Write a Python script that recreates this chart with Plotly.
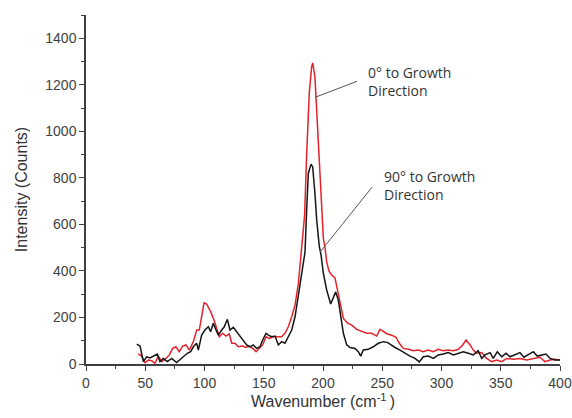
import plotly.graph_objects as go

# Wavenumber / intensity
red_x = [44.1, 47, 49.8, 52.6, 55.4, 58.2, 61, 63.9, 67.5, 70.3, 73.2, 75.9, 78.7, 81.6, 84.4, 87.2,
         90.6, 93.4, 95.6, 97.6, 99.6, 101.8, 105.2, 108, 110.3, 112.5, 115.3, 118.1, 120.9, 123,
         125.7, 128.5, 132.2, 135, 137.8, 140.7, 143.5, 146.3, 149.1, 151.9, 154.7, 158.1, 162.3,
         165.1, 167.9, 170.7, 173.6, 176.4, 179.2, 180.6, 182.5, 184.5, 186.2, 188.4, 190.4, 191.3,
         193.2, 194.7, 196.9, 198.9, 200.3, 201.7, 203.1, 205, 207.3, 210.1, 212.1, 215, 217.2,
         220.5, 224.2, 228.4, 232.7, 236.9, 241.1, 245.3, 248.1, 250.9, 254.3, 258, 261.6, 264.4,
         267.8, 272, 276.2, 280.4, 284.6, 288.8, 293.1, 297.3, 301.5, 305.7, 310, 314.2, 317.9,
         320.7, 324.1, 326.8, 329.7, 333.9, 338.1, 342.4, 346.6, 350.8, 355, 360.6, 366.2, 371.9,
         377.5, 383.1, 387.3, 391.6, 395.8, 400]
red_y = [43, 34, 6, 17, 14, 3, 34, 10, 24, 39, 67, 74, 53, 77, 82, 60,
         96, 146, 146, 203, 263, 258, 225, 189, 146, 117, 132, 120, 129, 89,
         89, 74, 77, 71, 77, 67, 53, 67, 82, 117, 110, 117, 117,
         117, 132, 160, 203, 253, 346, 420, 520, 640, 900, 1162, 1277, 1294,
         1234, 1091, 876, 704, 540, 500, 440, 400, 382, 370, 318, 246, 196,
         177, 167, 149, 139, 132, 132, 120, 149, 139, 129, 124, 115, 89,
         67, 63, 57, 60, 53, 60, 53, 63, 57, 60, 57, 63, 82,
         103, 82, 60, 46, 49, 24, 10, 17, 10, 24, 20, 24, 17,
         24, 29, 10, 17, 20, 17]

black_x = [42.8, 45.6, 48.4, 51.2, 54, 56.8, 60.2, 62.4, 65.2, 68.6, 72.3, 76.5, 79.3, 82.1, 85.5,
           88.3, 90.6, 93.4, 94.8, 97.6, 100.4, 103.2, 105.2, 107.4, 109.7, 111.7, 114.5, 116.7,
           119.3, 121.5, 124.3, 127.2, 130, 132.7, 135.6, 138.4, 141.2, 144, 146.8, 149.1, 151.9,
           153.9, 156.7, 159.5, 162.3, 165.1, 167.9, 170.7, 173.6, 176.4, 179.2, 182, 184.8, 186.2,
           187.6, 189.9, 191.3, 193.2, 194.7, 196.9, 198.3, 200.3, 203.1, 206.5, 208.7, 210.7,
           212.9, 215, 217.2, 220, 222.8, 227, 229.8, 231.8, 234, 238.2, 242.4, 246.7, 250.9, 254.3,
           257.1, 260.8, 265, 269.2, 273.4, 277.6, 281.3, 284.6, 288.8, 293.1, 297.3, 301.5, 305.7,
           310, 314.2, 318.4, 322.6, 326.8, 331, 333.9, 336.7, 341, 343.7, 347.1, 350.8, 354.4,
           357.8, 362, 366.2, 369.6, 373.3, 377.5, 380.8, 384.6, 388.2, 391.6, 395.8, 400]
black_y = [85, 77, 10, 31, 26, 34, 43, 10, 24, 10, 24, 6, 17, 31, 46,
           53, 74, 89, 60, 124, 146, 160, 139, 175, 146, 124, 146, 160,
           192, 146, 158, 139, 124, 103, 82, 74, 82, 67, 74, 103, 132,
           124, 117, 120, 82, 96, 89, 117, 146, 203, 289, 389, 480, 661,
           819, 859, 847, 733, 618, 504, 470, 389, 318, 258, 289, 310,
           275, 203, 132, 82, 71, 67, 53, 34, 60, 63, 74, 89, 96, 93,
           82, 71, 60, 46, 34, 24, 9, 31, 34, 24, 39, 43, 49,
           39, 46, 53, 46, 39, 57, 24, 39, 49, 24, 53, 31, 46,
           31, 39, 49, 29, 39, 53, 34, 39, 43, 24, 17, 17]

x_ticks = [0, 50, 100, 150, 200, 250, 300, 350, 400]
y_ticks = [0, 200, 400, 600, 800, 1000, 1200, 1400]

label_0 = "0° to Growth<br>Direction"
label_90 = "90° to Growth<br>Direction"

axis_col = "#404040"
fig = go.Figure()
fig.add_trace(go.Scatter(x=red_x, y=red_y, mode="lines",
                         line=dict(color="#e3232b", width=1.5), name="0°"))
fig.add_trace(go.Scatter(x=black_x, y=black_y, mode="lines",
                         line=dict(color="#151515", width=1.5), name="90°"))

fig.update_layout(
    width=572, height=418,
    margin=dict(l=86, r=12, t=15, b=54),
    paper_bgcolor="white", plot_bgcolor="white",
    showlegend=False,
    font=dict(family="Liberation Sans, Arial, sans-serif", color="#333333"),
)
fig.update_xaxes(
    range=[0, 400], tickvals=x_ticks, ticktext=[str(v) for v in x_ticks],
    automargin=False,
    showgrid=False, zeroline=False, showline=True, linecolor=axis_col, linewidth=1.5,
    ticks="outside", ticklen=5, tickwidth=1.2, tickcolor=axis_col,
    minor=dict(ticks="outside", ticklen=3, dtick=25, tickcolor=axis_col, tickwidth=1.2),
    tickfont=dict(size=14, color="#404040"),
    title=dict(text="Wavenumber (cm<sup>-1 </sup>)", font=dict(size=16, color="#333333"), standoff=4),
)
fig.update_yaxes(
    range=[0, 1500], tickvals=y_ticks, ticktext=[str(v) for v in y_ticks],
    automargin=False,
    showgrid=False, zeroline=False, showline=True, linecolor=axis_col, linewidth=1.5,
    ticks="outside", ticklen=5, tickwidth=1.2, tickcolor=axis_col,
    minor=dict(ticks="outside", ticklen=3, dtick=100, tickcolor=axis_col, tickwidth=1.2),
    tickfont=dict(size=14, color="#404040"),
    title=dict(text="Intensity (Counts)", font=dict(size=16, color="#333333"), standoff=14),
)

fig.add_shape(type="line", xref="x", yref="y", x0=193.2, y0=1146, x1=228.7, y1=1215,
              line=dict(color="#555555", width=1))
fig.add_shape(type="line", xref="x", yref="y", x0=197.5, y0=481, x1=241.4, y1=760,
              line=dict(color="#555555", width=1))
fig.add_annotation(x=236.3, y=1213, xref="x", yref="y", text=label_0, showarrow=False,
                   xanchor="left", yanchor="middle", align="left",
                   font=dict(family="Open Sans, sans-serif", size=14, color="#333333"))
fig.add_annotation(x=249.8, y=766, xref="x", yref="y", text=label_90, showarrow=False,
                   xanchor="left", yanchor="middle", align="left",
                   font=dict(family="Open Sans, sans-serif", size=14, color="#333333"))

fig.write_html("out.html", config={"displayModeBar": False},
               post_script="document.body.style.margin='0px';")
